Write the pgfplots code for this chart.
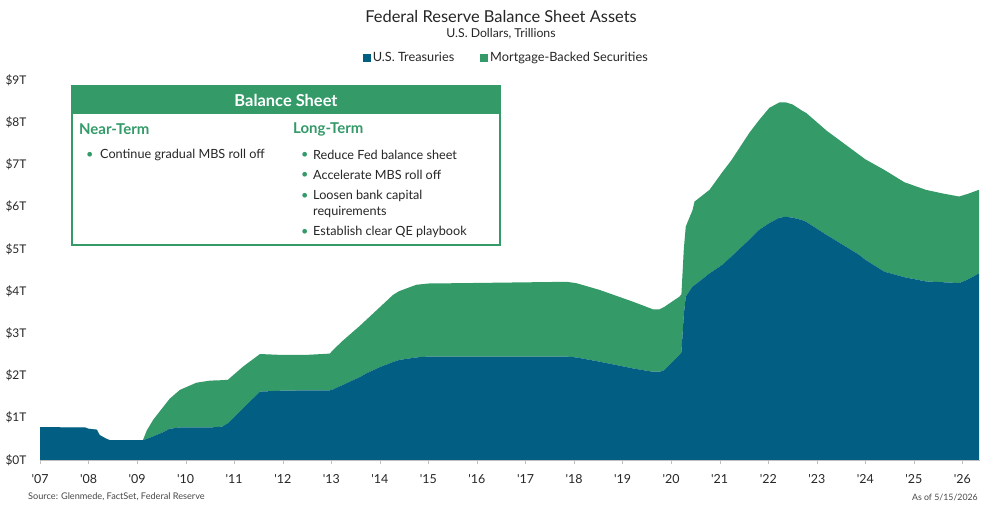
\documentclass[border=0pt]{standalone}
\usepackage{fontspec}
\setmainfont{Lato}
\newfontfamily\latoplain{Lato}
\usepackage{pgfplots}
\usepackage{pgfplotstable}
\pgfplotsset{compat=1.18}
\definecolor{fedblue}{HTML}{035E84}
\definecolor{fedgreen}{HTML}{339A68}
\definecolor{txt}{HTML}{262626}

\pgfplotstableread{
year tsy mbs
2007.00 0.78 0
2007.93 0.77 0
2008.00 0.74 0
2008.17 0.72 0
2008.23 0.59 0
2008.37 0.50 0
2008.44 0.47 0
2009.12 0.47 0
2009.20 0.50 0.20
2009.33 0.56 0.39
2009.54 0.66 0.60
2009.67 0.74 0.71
2009.88 0.77 0.89
2010.22 0.77 1.06
2010.50 0.77 1.11
2010.75 0.79 1.10
2010.87 0.87 1.03
2011.18 1.22 0.99
2011.53 1.62 0.89
2011.94 1.64 0.85
2012.50 1.65 0.84
2012.97 1.65 0.87
2013.03 1.67 0.93
2013.24 1.78 1.05
2013.58 1.96 1.21
2013.72 2.05 1.27
2014.00 2.20 1.42
2014.27 2.32 1.59
2014.40 2.37 1.63
2014.75 2.43 1.72
2015.00 2.45 1.73
2015.78 2.45 1.74
2017.15 2.45 1.76
2017.84 2.45 1.77
2018.04 2.43 1.76
2018.52 2.33 1.70
2019.21 2.17 1.58
2019.62 2.09 1.48
2019.76 2.09 1.48
2019.85 2.12 1.50
2020.17 2.49 1.38
2020.21 2.55 1.37
2020.26 3.45 1.55
2020.30 3.87 1.66
2020.44 4.11 1.81
2020.48 4.14 1.98
2020.79 4.42 1.98
2021.06 4.63 2.20
2021.24 4.82 2.28
2021.61 5.22 2.53
2021.81 5.45 2.60
2022.02 5.61 2.73
2022.23 5.74 2.73
2022.36 5.76 2.71
2022.50 5.74 2.68
2022.70 5.68 2.59
2022.78 5.64 2.58
2023.20 5.33 2.47
2023.60 5.05 2.41
2023.87 4.86 2.37
2024.00 4.74 2.38
2024.39 4.46 2.41
2024.80 4.33 2.25
2025.24 4.23 2.17
2025.60 4.21 2.10
2025.93 4.19 2.05
2026.10 4.27 2.03
2026.34 4.42 1.98
}\fedtable

\begin{document}
\begin{tikzpicture}[x=1bp,y=1bp]
\useasboundingbox (0,0) rectangle (1000,508);
\begin{axis}[
  at={(40bp,48bp)}, anchor=south west,
  scale only axis, width=940bp, height=380bp,
  xmin=2007, xmax=2026.36, ymin=0, ymax=9,
  stack plots=y,
  axis x line*=bottom, axis y line*=left,
  y axis line style={draw=none},
  x axis line style={draw=black!25, line width=0.8bp, -},
  xtick={2007,...,2026},
  xticklabels={'07,'08,'09,'10,'11,'12,'13,'14,'15,'16,'17,'18,'19,'20,'21,'22,'23,'24,'25,'26},
  ytick={0,...,9},
  yticklabels={\$0T,\$1T,\$2T,\$3T,\$4T,\$5T,\$6T,\$7T,\$8T,\$9T},
  tick align=outside,
  major tick length=4bp,
  xtick style={draw=black!25},
  ytick style={draw=none},
  xticklabel style={font=\latoplain\fontsize{12.5}{14}\selectfont, text=txt, yshift=-7bp},
  yticklabel style={font=\fontsize{12}{14}\selectfont, text=txt, anchor=west, xshift=-34bp},
  legend style={at={(0.496,1)}, anchor=center, yshift=22bp, draw=none, fill=none,
    font=\fontsize{12.8}{14}\selectfont, text=txt, legend columns=2,
    /tikz/every even column/.append style={column sep=24bp}},
  legend image code/.code={\fill[#1] (0bp,-4bp) rectangle (8bp,4bp);},
]
\addplot[draw=none, fill=fedblue] table[x=year,y=tsy]{\fedtable} \closedcycle;
\addplot[draw=none, fill=fedgreen] table[x=year,y=mbs]{\fedtable} \closedcycle;
\legend{U.S. Treasuries, Mortgage-Backed Securities}
\end{axis}

\node[font=\fontsize{16.5}{19}\selectfont, text=txt] at (501,491) {Federal Reserve Balance Sheet Assets};
\node[font=\fontsize{12.3}{14}\selectfont, text=txt] at (501,474) {U.S. Dollars, Trillions};

\fill[white] (72,263) rectangle (500,422);
\fill[fedgreen] (72,394) rectangle (500,422);
\draw[fedgreen, line width=1.5bp] (72,263) rectangle (500,422);
\node[white, font=\bfseries\fontsize{16.5}{18}\selectfont] at (286,408) {Balance Sheet};
\node[anchor=west, text=fedgreen, font=\bfseries\fontsize{15}{16}\selectfont, inner sep=0] at (79,379) {Near-Term};
\node[anchor=west, text=fedgreen, font=\bfseries\fontsize{15}{16}\selectfont, inner sep=0] at (293,379) {Long-Term};
\begin{scope}[every node/.style={anchor=west, inner sep=0, text=txt, font=\fontsize{12.7}{14}\selectfont}]
  \node[text=fedgreen] at (86,353) {•};
  \node at (100,353) {Continue gradual MBS roll off};
  \node[text=fedgreen] at (301,353) {•};
  \node at (313,353) {Reduce Fed balance sheet};
  \node[text=fedgreen] at (301,333) {•};
  \node at (313,333) {Accelerate MBS roll off};
  \node[text=fedgreen] at (301,312) {•};
  \node at (313,312) {Loosen bank capital};
  \node at (313,296) {requirements};
  \node[text=fedgreen] at (301,276) {•};
  \node at (313,276) {Establish clear QE playbook};
\end{scope}

\node[anchor=west, inner sep=0, font=\fontsize{9.2}{10}\selectfont, text=txt!85] at (28,11) {Source: Glenmede, FactSet, Federal Reserve};
\node[anchor=east, inner sep=0, font=\fontsize{8.8}{10}\selectfont, text=txt!85] at (978,11) {As of 5/15/2026};
\end{tikzpicture}
\end{document}
